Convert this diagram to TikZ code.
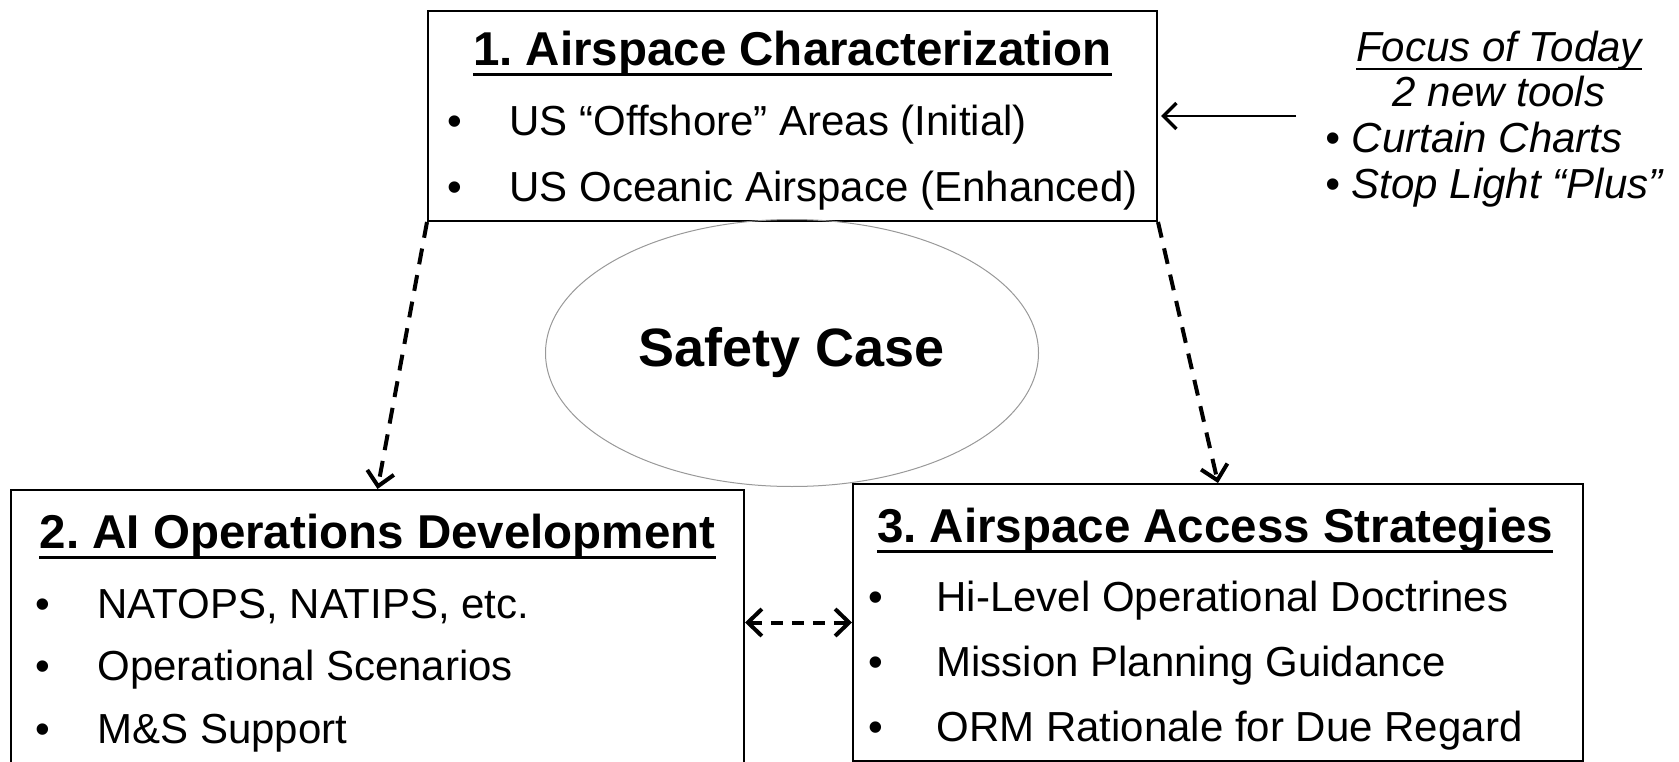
\documentclass[tikz,border=0pt]{standalone}
\usepackage{fontspec}
\setmainfont{Liberation Sans}
\usetikzlibrary{arrows.meta,positioning,shapes.geometric}
\frenchspacing

\tikzset{
  panel/.style={draw, line width=2pt, inner sep=0pt},
  headline/.style={anchor=base, inner sep=0pt, font=\fontsize{47.5}{57}\selectfont\bfseries},
  itemtext/.style={anchor=base west, font=\fontsize{42}{50}\selectfont},
  itemdot/.style={anchor=base, font=\fontsize{42}{50}\selectfont},
  focus/.style={anchor=base, font=\fontsize{42}{50}\selectfont\itshape},
  barb/.tip={Straight Barb[length=14pt,width=27pt,line width=4pt]},
  link/.style={dash pattern=on 16pt off 11pt, line width=4pt},
}
\newcommand{\underrule}[3]{%
  \draw[line width=#2] ([yshift=-#3]#1.base west) -- ([yshift=-#3]#1.base east);}

\begin{document}
\begin{tikzpicture}[x=1pt,y=-1pt]
  \useasboundingbox (0,0) rectangle (1679,762);
  \clip (0,0) rectangle (1679,762);

  %boxes
  \node[panel, minimum width=729pt, minimum height=210pt] (air) at (792.5,116) {};
  \node[panel, minimum width=733pt, minimum height=300pt] (ops) at (377.5,640) {};
  \node[panel, minimum width=730pt, minimum height=277pt] (acc) at (1218,622.5) {};

  %safety case
  \node[draw=black!40, line width=1pt, ellipse, inner sep=0pt,
    minimum width=493pt, minimum height=267pt,
    font=\fontsize{54}{64}\selectfont\bfseries] (safety) at (792,353) {Safety Case};

  %box 1
  \node[headline] (airhead) at (792.5,66) {1. Airspace Characterization};
  \underrule{airhead}{3pt}{9pt}
  \node[itemdot] (airdot1) at (455,136) {•};
  \node[itemtext] (airitem1) at (506,136) {US “Offshore” Areas (Initial)};
  \node[itemdot] (airdot2) at (455,202) {•};
  \node[itemtext] (airitem2) at (506,202) {US Oceanic Airspace (Enhanced)};

  %box 2
  \node[headline] (opshead) at (377.5,548) {2. AI Operations Development};
  \underrule{opshead}{3pt}{9pt}
  \node[itemdot] (opsdot1) at (43,618) {•};
  \node[itemtext] (opsitem1) at (94,618) {NATOPS, NATIPS, etc.};
  \node[itemdot] (opsdot2) at (43,680) {•};
  \node[itemtext] (opsitem2) at (94,680) {Operational Scenarios};
  \node[itemdot] (opsdot3) at (43,743) {•};
  \node[itemtext] (opsitem3) at (94,743) {M\&S Support};

  %box 3
  \node[headline] (acchead) at (1215,542) {3. Airspace Access Strategies};
  \underrule{acchead}{3pt}{9pt}
  \node[itemdot] (accdot1) at (876,611) {•};
  \node[itemtext] (accitem1) at (933,611) {Hi-Level Operational Doctrines};
  \node[itemdot] (accdot2) at (876,676) {•};
  \node[itemtext] (accitem2) at (933,676) {Mission Planning Guidance};
  \node[itemdot] (accdot3) at (876,741) {•};
  \node[itemtext] (accitem3) at (933,741) {ORM Rationale for Due Regard};

  %focus note
  \node[focus, inner sep=0pt] (focushead) at (1499,62) {Focus of Today};
  \underrule{focushead}{2pt}{7pt}
  \node[focus] (focussub) at (1499,107) {2 new tools};
  \node[focus, anchor=base west] (focus1) at (1322,153) {• Curtain Charts};
  \node[focus, anchor=base west] (focus2) at (1322,199) {• Stop Light “Plus”};

  %arrows
  \coordinate (focusend) at (1296,116);
  \draw[line width=1.5pt, -{Straight Barb[length=13pt,width=26pt,line width=3.5pt]}]
    (focusend) -- ([xshift=3pt]air.east);
  \draw[link, -barb] (air.south west) -- (ops.north);
  \draw[link, -barb] (air.south east) -- (acc.north);
  \draw[link, dash pattern=on 12pt off 9pt, barb-barb] (ops.east |- acc.west) -- (acc.west);
\end{tikzpicture}
\end{document}
